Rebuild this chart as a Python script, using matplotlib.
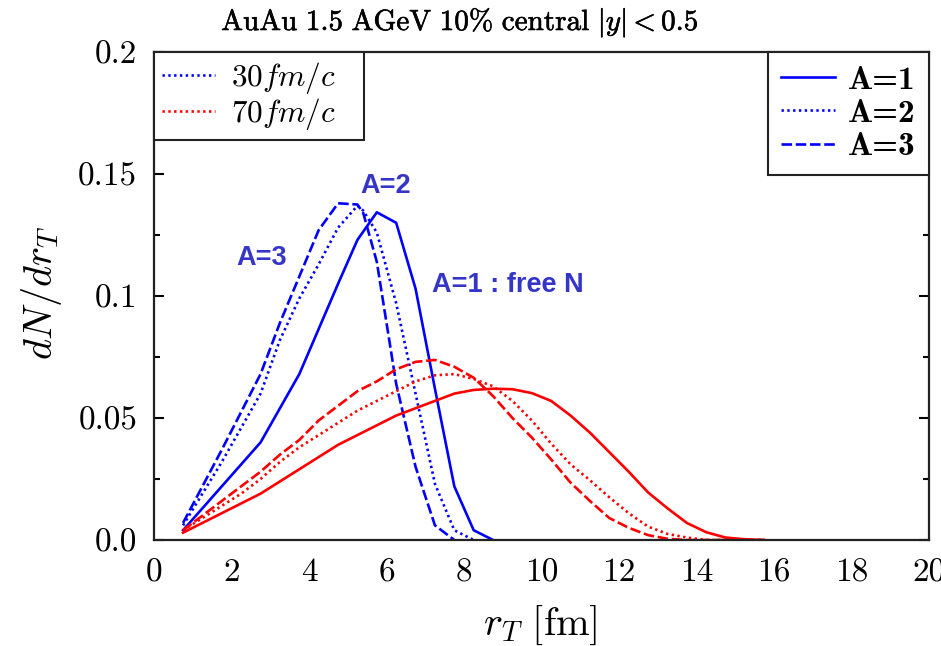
import matplotlib
matplotlib.use("Agg")
import matplotlib.pyplot as plt
import matplotlib.patheffects as pe
from matplotlib.font_manager import FontProperties
from matplotlib.ticker import MultipleLocator, FixedLocator, FixedFormatter

plt.rcParams['font.family'] = 'serif'
plt.rcParams['font.serif'] = ['cmr10']
plt.rcParams['mathtext.fontset'] = 'cm'
plt.rcParams['axes.unicode_minus'] = False

# ---- data: transverse radius distributions dN/dr_T ----
# t = 30 fm/c (blue)
rt_30_a1 = [0.75, 2.75, 3.75, 4.75, 5.25, 5.75, 6.25, 6.75, 7.25, 7.75, 8.25, 8.75]
dn_30_a1 = [0.004, 0.040, 0.068, 0.105, 0.123, 0.1343, 0.130, 0.103, 0.062, 0.022, 0.004, 0.0]

rt_30_a2 = [0.75, 1.75, 2.75, 3.25, 3.75, 4.25, 4.75, 5.25, 5.4, 5.75, 6.25, 6.75, 7.25, 7.75, 8.25]
dn_30_a2 = [0.006, 0.032, 0.060, 0.082, 0.099, 0.113, 0.128, 0.137, 0.135, 0.126, 0.097, 0.060, 0.023, 0.004, 0.0]

rt_30_a3 = [0.75, 1.75, 2.75, 3.25, 3.75, 4.25, 4.75, 5.25, 5.4, 5.75, 6.25, 6.75, 7.25, 7.75]
dn_30_a3 = [0.007, 0.037, 0.068, 0.089, 0.108, 0.127, 0.138, 0.1375, 0.134, 0.114, 0.064, 0.030, 0.006, 0.0]

# t = 70 fm/c (red)
rt_70 = [0.75, 1.25, 1.75, 2.25, 2.75, 3.25, 3.75, 4.25, 4.75, 5.25, 5.75, 6.25,
         6.75, 7.25, 7.75, 8.25, 8.75, 9.25, 9.75, 10.25, 10.75, 11.25, 11.75,
         12.25, 12.75, 13.25, 13.75, 14.25, 14.75, 15.25, 15.75]
dn_70_a1 = [0.003, 0.007, 0.011, 0.015, 0.019, 0.024, 0.029, 0.034, 0.039, 0.043, 0.047, 0.051,
            0.054, 0.057, 0.060, 0.0615, 0.062, 0.0618, 0.0602, 0.057, 0.051, 0.044, 0.036,
            0.028, 0.0195, 0.013, 0.007, 0.0032, 0.001, 0.0003, 0.0]
dn_70_a2 = [0.004, 0.009, 0.014, 0.019, 0.025, 0.032, 0.038, 0.043, 0.048, 0.053, 0.057, 0.061,
            0.065, 0.0675, 0.068, 0.066, 0.063, 0.057, 0.049, 0.0395, 0.031, 0.0245, 0.0175,
            0.011, 0.0055, 0.0025, 0.001, 0.0, 0.0, 0.0, 0.0]
dn_70_a3 = [0.004, 0.010, 0.016, 0.022, 0.028, 0.035, 0.041, 0.049, 0.055, 0.061, 0.065, 0.070,
            0.073, 0.0738, 0.071, 0.0665, 0.059, 0.050, 0.042, 0.033, 0.0235, 0.016, 0.009,
            0.005, 0.002, 0.0005, 0.0, 0.0, 0.0, 0.0, 0.0]

y_ticks = [0.0, 0.05, 0.1, 0.15, 0.2]
y_ticklabels = ['0.0', '0.05', '0.1', '0.15', '0.2']
x_ticks = [0, 2, 4, 6, 8, 10, 12, 14, 16, 18, 20]

BLUE = '#0000ff'
RED = '#ff0000'
LW = 1.9
DOT = (0, (0.9, 1.3))
DASH = (0, (4.0, 1.4))

fig = plt.figure(figsize=(9.41, 6.46), dpi=100)
W, H = 941, 646
ax = fig.add_axes([154 / W, 1 - 540 / H, (929 - 154) / W, (540 - 52) / H])

ax.plot(rt_30_a1, dn_30_a1, color=BLUE, lw=LW, linestyle='-')
ax.plot(rt_30_a2, dn_30_a2, color=BLUE, lw=LW, linestyle=DOT)
ax.plot(rt_30_a3, dn_30_a3, color=BLUE, lw=LW, linestyle=DASH)
ax.plot(rt_70, dn_70_a1, color=RED, lw=LW, linestyle='-')
ax.plot(rt_70, dn_70_a2, color=RED, lw=LW, linestyle=DOT)
ax.plot(rt_70, dn_70_a3, color=RED, lw=LW, linestyle=DASH)

ax.set_xlim(0, 20)
ax.set_ylim(0, 0.2)
ax.xaxis.set_major_locator(FixedLocator(x_ticks))
ax.yaxis.set_major_locator(FixedLocator(y_ticks))
ax.yaxis.set_major_formatter(FixedFormatter(y_ticklabels))
ax.yaxis.set_minor_locator(MultipleLocator(0.025))
ax.tick_params(axis='x', length=0, pad=13, labelsize=24)
ax.tick_params(axis='y', which='major', direction='in', length=7, width=1.5,
               left=True, right=True, pad=12, labelsize=24)
ax.tick_params(axis='y', which='minor', direction='in', length=4, width=1.5,
               left=True, right=True)
for sp in ax.spines.values():
    sp.set_linewidth(1.6)
    sp.set_color('#222222')

# curve labels
ann = dict(color='#3535c8', fontsize=19.5, fontweight='bold', family='Liberation Sans')
ax.text(5.99, 0.145, 'A=2', ha='center', va='center', **ann)
ax.text(2.79, 0.1156, 'A=3', ha='center', va='center', **ann)
ax.text(7.17, 0.1045, 'A=1 : free N', ha='left', va='center', **ann)

# legend for time
h30, = ax.plot([], [], color=BLUE, lw=LW, linestyle=DOT)
h70, = ax.plot([], [], color=RED, lw=LW, linestyle=DOT)
leg1 = ax.legend([h30, h70], [r'$30fm/c$' + '   ', r'$70fm/c$' + '   '], loc='upper left',
                 bbox_to_anchor=(0, 1), borderaxespad=0, fancybox=False,
                 framealpha=1, edgecolor='#222222', fontsize=22.5,
                 handlelength=1.7, handletextpad=0.5, labelspacing=0.0,
                 borderpad=0.25)
leg1.get_frame().set_linewidth(1.5)
ax.add_artist(leg1)

# legend for cluster size
ha1, = ax.plot([], [], color=BLUE, lw=LW, linestyle='-')
ha2, = ax.plot([], [], color=BLUE, lw=LW, linestyle=DOT)
ha3, = ax.plot([], [], color=BLUE, lw=LW, linestyle=DASH)
leg2 = ax.legend([ha1, ha2, ha3], ['A=1', 'A=2', 'A=3'],
                 loc='upper right', bbox_to_anchor=(1, 1), borderaxespad=0,
                 fancybox=False, framealpha=1, edgecolor='#222222',
                 prop=FontProperties(family='cmb10', size=24),
                 handlelength=1.6, handletextpad=0.4, labelspacing=0.12,
                 borderpad=0.4)
leg2.get_frame().set_linewidth(1.5)

title = fig.text(460 / W, 1 - 30 / H, r'$\mathrm{AuAu\ 1.5\ AGeV\ 10\%\ central}\ |y|<0.5$',
                 ha='center', va='baseline', fontsize=21)
title.set_path_effects([pe.withStroke(linewidth=0.4, foreground='black')])
fig.text(42 / W, 1 - 293 / H, r'$dN/dr_T$', rotation=90, ha='center', va='center', fontsize=29)
fig.text(540 / W, 1 - 625 / H, r'$r_T\ [\mathrm{fm}]$', ha='center', va='center', fontsize=29)

fig.savefig('out.png', dpi=100)
